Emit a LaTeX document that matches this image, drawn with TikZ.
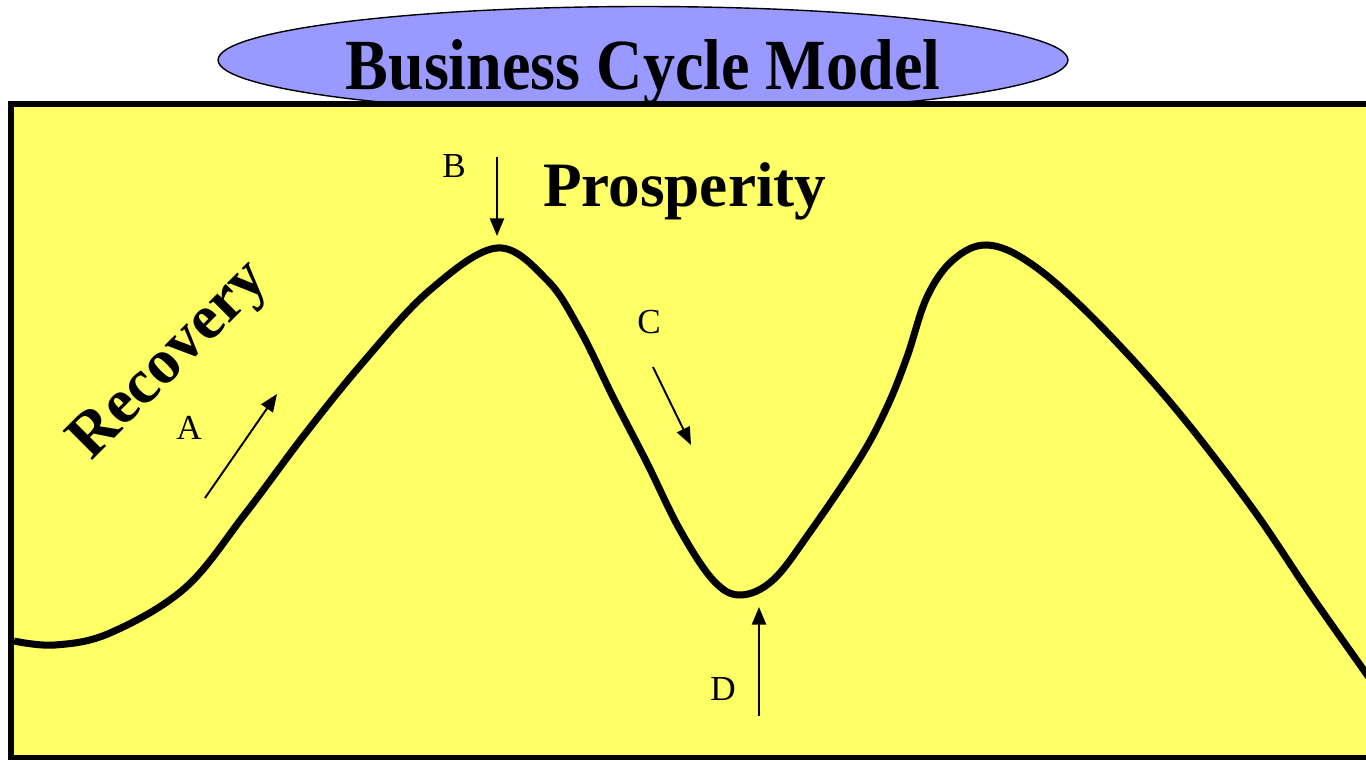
\documentclass[tikz,border=0pt]{standalone}
\usepackage{fontspec}
\setmainfont{Liberation Serif}
\usepackage{tikz,xcolor}
\usetikzlibrary{shapes.geometric}
\usetikzlibrary{arrows.meta}
\definecolor{padyellow}{HTML}{FFFF66}
\definecolor{titleblue}{HTML}{9999FF}

\begin{document}
\begin{tikzpicture}[x=0.02cm,y=-0.02cm]
    \useasboundingbox (0,0) rectangle (1366,760);
    \clip (0,0) rectangle (1366,760);

    \tikzstyle{every node}=[inner sep=0pt,outer sep=0pt]
    \tikzstyle{titleshape}=[draw,ellipse,fill=titleblue,line width=0.8pt,minimum width=17cm,minimum height=2.14cm]
    \tikzstyle{heading}=[font=\fontsize{36}{40}\selectfont\bfseries]
    \tikzstyle{letter}=[font=\fontsize{20}{24}\selectfont]
    \tikzstyle{pointer}=[line width=1.1pt,-{Triangle[length=10pt,width=8pt]}]

    % title
    \node[titleshape](title) at (643,60){};
    \node[heading,anchor=base](ttl) at (643,90){\scalebox{0.89}[1]{\fontsize{41}{44}\selectfont Business Cycle Model}};

    % panel
    \draw[fill=padyellow,line width=3.4pt] (11,104) rectangle (1380,758);

    % the cycle
    \draw[line width=4pt,line join=round] plot[smooth,tension=0.6] coordinates {
      (14,641) (55,645) (110,633) (185,588) (245,514) (305,434)
      (365,360) (430,290) (497,248) (547,280) (580,330) (613,397)
      (647,463) (680,530) (713,580) (740,595) (773,580) (810,532)
      (860,458) (887,407) (907,357) (927,297) (953,260) (987,245) (1030,263)
      (1090,315) (1170,402) (1250,505) (1313,598) (1385,700)};

    \node[heading,rotate=45](recov) at (171,362){Recovery};
    \node[heading,anchor=base west](prosp) at (543,207){Prosperity};

    \node[letter](lA) at (189,428){A};
    \node[letter](lB) at (454,166){B};
    \node[letter](lC) at (649,322){C};
    \node[letter](lD) at (723,689){D};

    \coordinate (a0) at (205,498);
    \coordinate (a1) at (277,394);
    \coordinate (b0) at (497,157);
    \coordinate (b1) at (497,236);
    \coordinate (c0) at (653,367);
    \coordinate (c1) at (691,445);
    \coordinate (d0) at (759,716);
    \coordinate (d1) at (759,607);

    \draw[pointer](a0)--(a1);
    \draw[pointer](b0)--(b1);
    \draw[pointer](c0)--(c1);
    \draw[pointer](d0)--(d1);

\end{tikzpicture}
\end{document}
